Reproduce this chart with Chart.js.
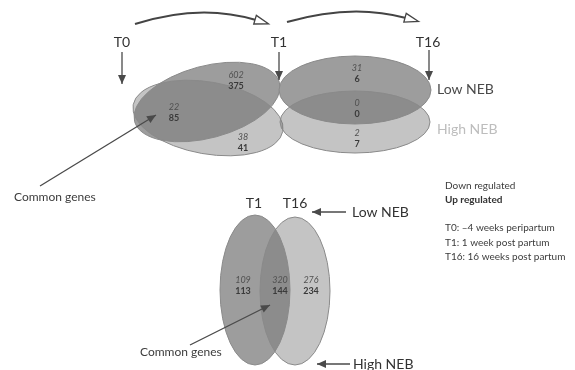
<!DOCTYPE html>
<html>
<head>
<meta charset="utf-8">
<script src="https://cdn.jsdelivr.net/npm/chart.js@4/dist/chart.umd.min.js"></script>
<style>
  html, body { margin: 0; padding: 0; background: #fff; }
  #wrap { width: 575px; height: 370px; }
</style>
</head>
<body>
<div id="wrap"><canvas id="venn" width="575" height="370"></canvas></div>
<script>
// labels
const periods = ["T0", "T1", "T16"];
const groups = ["Low NEB", "High NEB"];
const commonLabel = "Common genes";
const legendKey = ["Down regulated", "Up regulated"];
const legendNotes = ["T0: \u20134 weeks peripartum", "T1: 1 week post partum", "T16: 16 weeks post partum"];

// gene counts: [Low NEB only, common, High NEB only]
const downT0T1 = [602, 22, 38];
const upT0T1 = [375, 85, 41];
const downT1T16 = [31, 0, 2];
const upT1T16 = [6, 0, 7];
// gene counts: [T1 only, common, T16 only]
const downT1vsT16 = [109, 320, 276];
const upT1vsT16 = [113, 144, 234];

// layout, in scale units (x 0..575, y 0..370 from the top)
const DARK = "#9d9d9d";
const LIGHT = "rgba(118,118,118,0.43)";
const venns = [
    {
        ellipses: [
            { cx: 207, cy: 102, rx: 75, ry: 36, rot: -15, fill: DARK },
            { cx: 208, cy: 118, rx: 76, ry: 36, rot: 10, fill: LIGHT }
        ],
        down: downT0T1, up: upT0T1,
        spots: [[236, 75], [174, 107], [243, 137]]
    },
    {
        ellipses: [
            { cx: 355, cy: 90, rx: 76, ry: 34, rot: 0, fill: DARK },
            { cx: 355, cy: 122, rx: 75, ry: 31, rot: 0, fill: LIGHT }
        ],
        down: downT1T16, up: upT1T16,
        spots: [[357, 68], [357, 103], [357, 133]]
    },
    {
        ellipses: [
            { cx: 255, cy: 290, rx: 35, ry: 75, rot: 0, fill: DARK },
            { cx: 295, cy: 291, rx: 35, ry: 74, rot: 0, fill: LIGHT }
        ],
        down: downT1vsT16, up: upT1vsT16,
        spots: [[243, 280], [280, 280], [311, 280]]
    }
];

const FONT = "Lato, 'Open Sans', sans-serif";
const INK = "#333";

function drawHead(ctx, x, y, ang, len, half, hollow) {
    ctx.beginPath();
    ctx.moveTo(x, y);
    ctx.lineTo(x - len * Math.cos(ang) + half * Math.sin(ang), y - len * Math.sin(ang) - half * Math.cos(ang));
    ctx.lineTo(x - len * Math.cos(ang) - half * Math.sin(ang), y - len * Math.sin(ang) + half * Math.cos(ang));
    ctx.closePath();
    if (hollow) {
        ctx.fillStyle = "#fff";
        ctx.fill();
        ctx.stroke();
    } else {
        ctx.fillStyle = ctx.strokeStyle;
        ctx.fill();
    }
}

const vennPlugin = {
    id: "venn",
    afterDraw(chart) {
        const ctx = chart.ctx;
        const sx = v => chart.scales.x.getPixelForValue(v);
        const sy = v => chart.scales.y.getPixelForValue(v);

        function text(str, x, y, size, opts) {
            opts = opts || {};
            ctx.font = (opts.style || "") + " " + (opts.weight || "normal") + " " + size + "px " + FONT;
            ctx.fillStyle = opts.color || INK;
            ctx.textAlign = opts.align || "center";
            ctx.textBaseline = "middle";
            ctx.fillText(str, sx(x), sy(y));
        }
        function arrow(x1, y1, x2, y2) {
            ctx.strokeStyle = "#4a4a4a";
            ctx.lineWidth = 1.3;
            ctx.beginPath();
            ctx.moveTo(sx(x1), sy(y1));
            ctx.lineTo(sx(x2), sy(y2));
            ctx.stroke();
            const ang = Math.atan2(sy(y2) - sy(y1), sx(x2) - sx(x1));
            drawHead(ctx, sx(x2), sy(y2), ang, 9, 4, false);
        }
        function curved(x1, y1, cx, cy, x2, y2) {
            ctx.strokeStyle = "#444";
            ctx.lineWidth = 2;
            ctx.beginPath();
            ctx.moveTo(sx(x1), sy(y1));
            ctx.quadraticCurveTo(sx(cx), sy(cy), sx(x2), sy(y2));
            ctx.stroke();
            ctx.lineWidth = 1.3;
            const ang = Math.atan2(sy(y2) - sy(cy), sx(x2) - sx(cx));
            drawHead(ctx, sx(x2) + 13 * Math.cos(ang), sy(y2) + 13 * Math.sin(ang), ang, 14, 4.5, true);
        }

        ctx.save();

        venns.forEach(v => {
            v.ellipses.forEach(e => {
                ctx.beginPath();
                ctx.ellipse(sx(e.cx), sy(e.cy), e.rx, e.ry, e.rot * Math.PI / 180, 0, Math.PI * 2);
                ctx.fillStyle = e.fill;
                ctx.fill();
            });
            v.ellipses.forEach(e => {
                ctx.beginPath();
                ctx.ellipse(sx(e.cx), sy(e.cy), e.rx, e.ry, e.rot * Math.PI / 180, 0, Math.PI * 2);
                ctx.strokeStyle = "#8a8a8a";
                ctx.lineWidth = 1;
                ctx.stroke();
            });
            // counts: italic = down regulated, bold = up regulated
            v.spots.forEach((p, i) => {
                text(String(v.down[i]), p[0], p[1], 9, { style: "italic", color: "#505050" });
                text(String(v.up[i]), p[0], p[1] + 11, 9, { weight: "bold", color: "#3a3a3a" });
            });
        });

        // time points on top
        text(periods[0], 122, 42, 14);
        text(periods[1], 279, 42, 14);
        text(periods[2], 428, 42, 14);
        curved(135, 24, 200, 3, 256, 20);
        curved(287, 22, 352, 3, 406, 18);
        arrow(122, 52, 122, 84);
        arrow(279, 52, 279, 80);
        arrow(429, 50, 429, 80);

        text(groups[0], 437, 89, 14, { align: "left", color: "#4a4a4a" });
        text(groups[1], 437, 129, 14, { align: "left", color: "#bdbdbd" });

        text(commonLabel, 14, 197, 12, { align: "left", color: "#3c3c3c" });
        arrow(40, 186, 156, 115);

        // bottom venn
        text(periods[1], 254, 203, 14);
        text(periods[2], 295, 203, 14);
        arrow(346, 212, 312, 212);
        text(groups[0], 352, 212, 14, { align: "left" });
        arrow(350, 364, 317, 364);
        text(groups[1], 353, 364, 14, { align: "left" });
        text(commonLabel, 140, 352, 12, { align: "left", color: "#3c3c3c" });
        arrow(190, 345, 270, 305);

        // key
        text(legendKey[0], 445, 186, 10, { align: "left", color: "#3c3c3c" });
        text(legendKey[1], 445, 200, 10, { align: "left", weight: "bold" });
        legendNotes.forEach((s, i) => text(s, 445, 228 + i * 14.5, 10, { align: "left", color: "#3c3c3c" }));

        ctx.restore();
    }
};

new Chart(document.getElementById("venn"), {
    type: "scatter",
    data: { datasets: [] },
    options: {
        responsive: false,
        devicePixelRatio: 1,
        animation: false,
        layout: { padding: 0 },
        plugins: { legend: { display: false }, tooltip: { enabled: false } },
        scales: {
            x: { type: "linear", min: 0, max: 575, display: false },
            y: { type: "linear", min: 0, max: 370, reverse: true, display: false }
        }
    },
    plugins: [vennPlugin]
});
</script>
</body>
</html>
